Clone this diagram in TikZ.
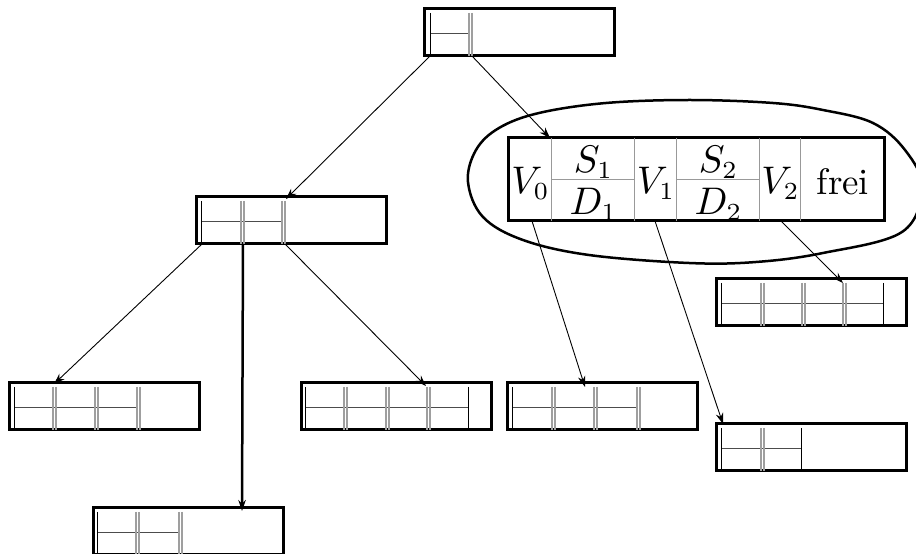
\documentclass[tikz,border=0pt]{standalone}
\usetikzlibrary{arrows.meta,calc}
\newcommand\myvl[1]{\draw[sl] (#1,4) -- (#1,47);}
\newcommand\mydl[1]{\draw[dl] (#1,4) -- (#1,47); \draw[dl] ($(#1,4)+(3,0)$) -- ($(#1,47)+(3,0)$);}
\newcommand\myhl[2]{\draw[hl] (#1,25) -- (#2,25);}
\begin{document}
\begin{tikzpicture}[x=0.1mm,y=-0.1mm,
  box/.style={draw, line width=0.3mm, minimum width=19mm, minimum height=4.7mm, anchor=north west, inner sep=0pt, outer sep=0pt},
  bigbox/.style={draw, line width=0.3mm, minimum width=37.6mm, minimum height=8.3mm, anchor=north west, inner sep=0pt, outer sep=0pt},
  sl/.style={black, line width=0.1mm},
  dl/.style={gray!75, line width=0.12mm},
  hl/.style={black!70, line width=0.1mm},
  gl/.style={gray!80, line width=0.1mm},
  arr/.style={-{Stealth[length=1.1mm,width=0.75mm]}, line width=0.09mm},
  txt/.style={inner sep=0pt, font=\fontsize{10.5}{12}\selectfont}]
\useasboundingbox (0,0) rectangle (916,554);
\clip (0,0) rectangle (916,554);

% nodes
\node[box] (root) at (425,9) {};
\node[box] (mid) at (197,197) {};
\node[bigbox] (big) at (509,138) {};
\node[box] (nA) at (10,383) {};
\node[box] (nB) at (302,383) {};
\node[box] (nC) at (508,383) {};
\node[box] (nD) at (94,508) {};
\node[box] (nE) at (717,279) {};
\node[box] (nF) at (717,424) {};

% inner lines
\begin{scope}[shift={(root.north west)}]
  \myhl{6}{44} \myvl{6} \mydl{44}
\end{scope}
\begin{scope}[shift={(mid.north west)}]
  \myhl{5}{85} \myvl{5} \mydl{44} \mydl{85}
\end{scope}
\begin{scope}[shift={(nA.north west)}]
  \myhl{5}{127} \myvl{5} \mydl{43} \mydl{85} \mydl{127}
\end{scope}
\begin{scope}[shift={(nB.north west)}]
  \myhl{4}{167} \myvl{4} \mydl{42} \mydl{84} \mydl{125} \myvl{167}
\end{scope}
\begin{scope}[shift={(nC.north west)}]
  \myhl{5}{129} \myvl{5} \mydl{44} \mydl{86} \mydl{129}
\end{scope}
\begin{scope}[shift={(nD.north west)}]
  \myhl{4}{85} \myvl{4} \mydl{42} \mydl{85}
\end{scope}
\begin{scope}[shift={(nE.north west)}]
  \myhl{5}{167} \myvl{5} \mydl{44} \mydl{85} \mydl{126} \myvl{167}
\end{scope}
\begin{scope}[shift={(nF.north west)}]
  \myhl{5}{85} \myvl{5} \mydl{44} \myvl{85}
\end{scope}

% big node detail
\begin{scope}[shift={(big.north west)}]
  \foreach \x in {43,126,168,251,292} \draw[gl] (\x,0) -- (\x,83);
  \draw[gl] (43,42) -- (126,42);
  \draw[gl] (168,42) -- (251,42);
\end{scope}
\node[txt] (v0) at (530.5,183) {$V_0$};
\node[txt] (s1) at (593.5,162) {$S_1$};
\node[txt] (d1) at (593.5,204) {$D_1$};
\node[txt] (v1) at (656,183) {$V_1$};
\node[txt] (s2) at (718.5,162) {$S_2$};
\node[txt] (d2) at (718.5,204) {$D_2$};
\node[txt] (v2) at (780.5,183) {$V_2$};
\node[txt] (frei) at (843,182) {frei};

% hand-drawn ellipse round the big node
\draw[line width=0.25mm] plot[smooth cycle, tension=0.6] coordinates {
  (468,182) (476,150) (499,128) (539,113) (606,103) (690,100) (773,103)
  (823,110) (873,123) (905,150) (922,187) (902,232) (823,253) (756,262)
  (689,263) (589,255) (523,240) (483,217)};

% connector endpoints
\coordinate (r0) at ($(root.south west)+(5,0)$);
\coordinate (r1) at ($(root.south west)+(47,0)$);
\coordinate (m0) at ($(mid.south west)+(5,0)$);
\coordinate (m1) at ($(mid.south west)+(46,0)$);
\coordinate (m2) at ($(mid.south west)+(88,0)$);
\coordinate (b0) at ($(big.south west)+(23,0)$);
\coordinate (b1) at ($(big.south west)+(146,0)$);
\coordinate (b2) at ($(big.south west)+(272,0)$);
\coordinate (tmid) at ($(mid.north west)+(89,2)$);
\coordinate (tbig) at ($(big.north west)+(41,0)$);
\coordinate (tA) at ($(nA.north west)+(44,1)$);
\coordinate (tD) at ($(nD.north west)+(148,3)$);
\coordinate (tB) at ($(nB.north west)+(124,3)$);
\coordinate (tC) at ($(nC.north west)+(77,4)$);
\coordinate (tF) at ($(nF.north west)+(6,0)$);
\coordinate (tE) at ($(nE.north west)+(126,4)$);

% connectors
\draw[arr] (r0) -- (tmid);
\draw[arr] (r1) -- (tbig);
\draw[arr] (m0) -- (tA);
\draw[arr, line width=0.25mm] (m1) -- (tD);
\draw[arr] (m2) -- (tB);
\draw[arr] (b0) -- (tC);
\draw[arr] (b1) -- (tF);
\draw[arr] (b2) -- (tE);
\end{tikzpicture}
\end{document}
